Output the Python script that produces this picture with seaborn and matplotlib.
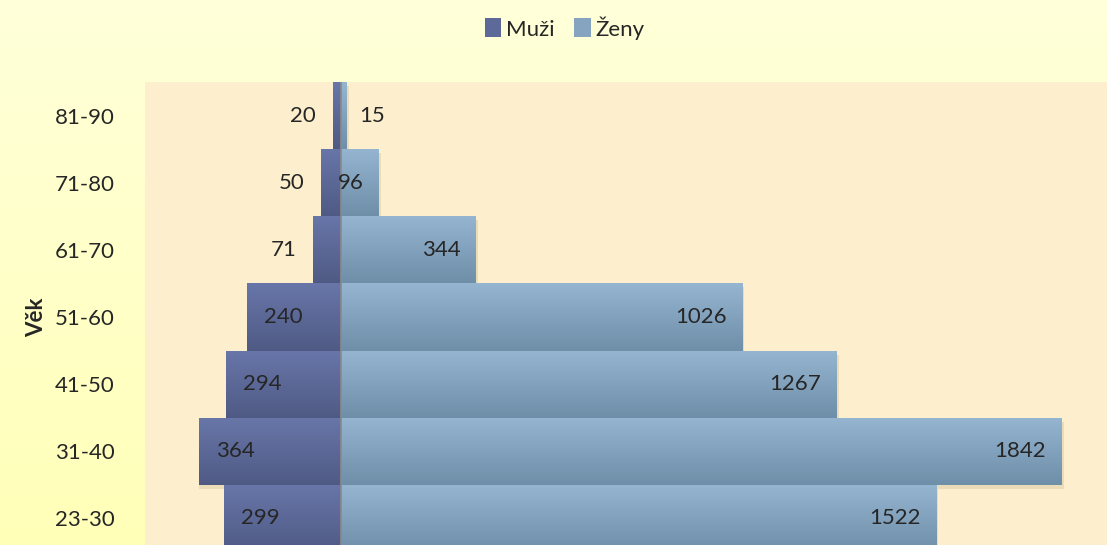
import numpy as np
import pandas as pd
import seaborn as sns
import matplotlib.pyplot as plt
import matplotlib.colors as mcolors

ages = ["81-90", "71-80", "61-70", "51-60", "41-50", "31-40", "23-30"]
muzi = [20, 50, 71, 240, 294, 364, 299]
zeny = [15, 96, 344, 1026, 1267, 1842, 1522]

sns.set_theme(style="white")
plt.rcParams['font.family'] = ['Lato', 'DejaVu Sans']

fig = plt.figure(figsize=(11.07, 5.45), dpi=100)

# figure background gradient (pale yellow)
bg = fig.add_axes([0, 0, 1, 1], zorder=-10)
grad = np.linspace(0, 1, 256).reshape(-1, 1)
bg_cmap = mcolors.LinearSegmentedColormap.from_list("bg", ["#FFFFDA", "#FFFFB8"])
bg.imshow(grad, aspect="auto", cmap=bg_cmap, extent=[0, 1, 0, 1])
bg.axis("off")

ax = fig.add_axes([145 / 1107, -7 / 545, 1 - 145 / 1107, 470 / 545])
ax.set_facecolor("#FDEFCD")

df = pd.DataFrame({"vek": ages, "muzi": muzi, "zeny": zeny})
sns.barplot(data=df, x=-df["muzi"], y="vek", order=ages, color="#5D6A99",
            width=1.0, ax=ax, label="Muži")
sns.barplot(data=df, x="zeny", y="vek", order=ages, color="#86A4C0",
            width=1.0, ax=ax, label="Ženy")

# gradient fill for bars
men_cmap = mcolors.LinearSegmentedColormap.from_list("m", ["#6876A9", "#4F5A84"])
wom_cmap = mcolors.LinearSegmentedColormap.from_list("w", ["#95B5D1", "#6F8EA8"])
for p in list(ax.patches):
    x0, y0 = p.get_x(), p.get_y()
    w, h = p.get_width(), p.get_height()
    cmap = men_cmap if w < 0 else wom_cmap
    # soft shadow
    ax.add_patch(plt.Rectangle((x0 + (6 if w > 0 else 0), y0 + 0.06), w, h,
                               facecolor="#C9B98F", alpha=0.35, edgecolor="none", zorder=1.5))
    im = ax.imshow(grad, aspect="auto", cmap=cmap,
                   extent=[min(x0, x0 + w), max(x0, x0 + w), y0 + h, y0], zorder=2)
    im.set_clip_path(p)
    p.set_facecolor("none")
    p.set_edgecolor("none")
    p.set_zorder(2)

ax.set_xlim(-501, 1959)
ax.set_ylim(6.5, -0.5)
ax.axvline(0, color="#8A8A8A", lw=1.2, zorder=3)

px = 72 / 100
fs = 16
for i, (m, z) in enumerate(zip(muzi, zeny)):
    if m > 120:
        ax.annotate(str(m), (-m, i), xytext=(17 * px, 0), textcoords="offset points",
                    ha="left", va="center", fontsize=fs, zorder=4)
    else:
        ax.annotate(str(m), (-m, i), xytext=(-17 * px, 0), textcoords="offset points",
                    ha="right", va="center", fontsize=fs, zorder=4)
    if z > 60:
        ax.annotate(str(z), (z, i), xytext=(-15 * px, 0), textcoords="offset points",
                    ha="right", va="center", fontsize=fs, zorder=4)
    else:
        ax.annotate(str(z), (z, i), xytext=(12 * px, 0), textcoords="offset points",
                    ha="left", va="center", fontsize=fs, zorder=4)

ax.set_xticks([])
ax.set_xlabel("")
ax.tick_params(axis="y", length=0, pad=22, labelsize=fs)
ax.set_ylabel("Věk", fontsize=fs, fontweight="bold", labelpad=5)
for s in ax.spines.values():
    s.set_visible(False)

ax.legend(loc="center", bbox_to_anchor=(0.51, 0.949), bbox_transform=fig.transFigure,
          ncol=2, frameon=False, fontsize=fs, handlelength=0.75, handleheight=0.95,
          handletextpad=0.2, columnspacing=0.9)
leg = ax.get_legend()
for h, c in zip(leg.legend_handles, ["#5D6A99", "#86A4C0"]):
    h.set_facecolor(c)
    h.set_edgecolor("none")

fig.savefig("out.png", dpi=100)
